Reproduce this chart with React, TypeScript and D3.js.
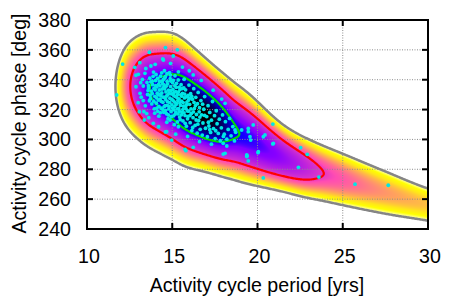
import React, { useMemo } from "react";
import * as d3 from "d3";

// ---------------- data ----------------
const X_TICKS = [10, 15, 20, 25, 30];
const Y_TICKS = [240, 260, 280, 300, 320, 340, 360, 380];

// density model knots (period in yrs)
const KNOT_PERIOD = [10.5, 11.0, 11.64, 12.4, 12.9, 13.4, 13.7, 14.2, 15.0, 15.75, 16.8, 17.7, 18.8, 19.7, 20.7, 21.7, 22.7, 23.85, 25.0, 27.2, 30.0, 32.0];
// ridge (most probable phase at given period)
const RIDGE_PHASE = [335, 335, 335.5, 336, 335, 334, 333, 331.5, 329.5, 324, 317.4, 311.4, 304.5, 299.2, 292.2, 286.2, 281.5, 277.3, 273.2, 265.4, 256.3, 251];
// log of marginal peak density along period
const LOG_PEAK = [-12, -7.6, -4.5, -2.2, -1.34, -0.62, -0.45, -0.27, 0.05, 0.33, 0.35, 0.13, -0.5, -0.6, -0.78, -1.07, -1.45, -2.0, -2.3, -2.8, -3.2, -3.5];
// 2*sigma^2 of phase spread
const SPREAD = [360, 360, 364, 370, 362, 360, 372, 391, 405, 377, 306, 272, 265, 225, 170, 137, 132, 137, 135, 125, 88, 80];

const CONTOUR_LEVELS = [4.5, 2, 0.5];
const CONTOUR_COLORS = ["#858585", "#ff0000", "#00dd00"];
const COLOR_E = [-0.3, 0.0, 0.5, 0.8, 1.2, 2, 2.5, 3, 3.5, 4.5];
const COLOR_T = [0, 0.1, 0.25, 0.41, 0.46, 0.53, 0.63, 0.75, 0.87, 0.99];

const POINTS: [number, number][] = [
  [11.74, 329.8], [12.09, 350.5], [13.66, 358.4], [14.6, 361.5], [15.3, 360], [15.06, 355.9], [14.44, 353.9],
  [13.1, 351.4], [12.8, 348.3], [12.87, 343], [13.01, 343.6], [13.4, 344.3], [12.87, 335.3], [13.11, 330.9],
  [13.0, 324.6], [13.3, 326], [13.07, 318.6], [13.34, 318.6], [13.36, 313], [13.89, 310.8], [14.87, 313],
  [15.36, 308.5], [14.67, 305.2], [14.48, 353.2], [14.97, 299.6], [15.8, 292.5],
  [18.1, 290.7], [19.37, 289.6], [20.34, 274.2], [19.56, 301.8], [20.44, 303], [19.46, 307.4], [20.93, 297.4],
  [19.46, 305.2], [19.6, 299.6], [20.34, 301.8], [17.99, 297.4], [18.2, 295.6], [17.99, 290.2], [19.37, 288.5],
  [16.23, 294.7], [15.75, 293.4], [20.05, 291.8], [19.75, 309.7], [18.1, 324.2], [18.68, 306.3], [19.07, 306.3],
  [16.23, 343.2], [20.9, 310.3], [20.9, 297], [22.53, 294.5], [22.92, 290], [22.4, 281.3], [23.6, 274.8],
  [25.72, 270], [27.67, 269.3], [19.4, 289], [20.03, 291.1], [19.46, 285.6],
  [13.52, 338.2], [13.61, 334.5], [13.55, 330.1], [13.72, 327.3], [13.68, 341.0], [13.8, 323.8], [13.85, 336.7],
  [13.9, 345.1], [13.95, 320.5], [13.78, 332.4], [13.98, 328.9], [14.02, 339.4],
  [14.05, 343.5], [14.1, 335.2], [14.12, 331.0], [14.18, 326.4], [14.22, 322.1], [14.25, 338.8], [14.3, 317.9],
  [14.33, 329.2], [14.38, 344.6], [14.4, 333.7], [14.45, 324.9], [14.48, 340.2], [14.15, 318.8], [14.28, 335.9],
  [14.42, 320.3], [14.08, 327.9],
  [14.52, 336.5], [14.55, 328.1], [14.58, 322.6], [14.6, 342.1], [14.63, 331.8], [14.66, 317.2], [14.7, 338.9],
  [14.72, 325.3], [14.75, 313.9], [14.78, 333.0], [14.8, 320.4], [14.84, 344.8], [14.86, 327.6], [14.9, 335.4],
  [14.93, 318.7], [14.96, 330.5], [14.98, 323.2], [14.54, 346.0], [14.68, 311.5], [14.88, 340.7],
  [15.02, 337.9], [15.05, 326.1], [15.08, 315.8], [15.1, 331.4], [15.13, 321.9], [15.16, 342.6], [15.18, 328.8],
  [15.21, 318.3], [15.24, 334.9], [15.27, 324.0], [15.3, 311.7], [15.32, 330.2], [15.35, 339.8], [15.38, 320.6],
  [15.4, 327.1], [15.43, 315.0], [15.46, 333.6], [15.48, 322.8], [15.12, 309.9], [15.36, 345.3],
  [15.52, 336.7], [15.55, 325.6], [15.58, 318.1], [15.6, 330.9], [15.63, 312.4], [15.66, 322.3], [15.7, 340.3],
  [15.72, 327.8], [15.75, 316.0], [15.78, 333.2], [15.8, 320.7], [15.83, 308.9], [15.86, 325.0], [15.9, 313.8],
  [15.93, 329.5], [15.96, 318.9], [15.98, 336.4],
  [16.02, 323.5], [16.05, 311.2], [16.08, 330.6], [16.12, 317.4], [16.15, 305.9], [16.18, 326.9], [16.22, 314.6],
  [16.26, 334.0], [16.3, 320.8], [16.34, 309.4], [16.38, 328.2], [16.42, 316.7], [16.46, 304.2], [16.48, 323.9],
  [16.52, 331.5], [16.55, 312.6], [16.6, 321.3], [16.64, 306.8], [16.68, 326.0], [16.72, 316.5], [16.76, 302.9],
  [16.8, 311.0], [16.85, 320.2], [16.9, 328.7], [16.95, 307.5],
  [17.02, 315.3], [17.06, 301.8], [17.1, 322.6], [17.15, 309.0], [17.2, 318.1], [17.25, 304.7], [17.3, 312.9],
  [17.36, 325.4], [17.42, 307.3], [17.48, 315.9],
  [17.52, 300.6], [17.58, 319.2], [17.63, 310.5], [17.7, 304.0], [17.76, 313.6], [17.82, 299.1], [17.88, 307.8],
  [17.95, 316.4],
  [18.05, 303.5], [18.12, 311.9], [18.2, 300.2], [18.28, 306.7], [18.36, 314.1], [18.45, 302.4], [18.55, 308.6],
  [18.65, 299.0], [18.72, 304.8],
  [13.25, 340.2], [13.3, 335.8], [13.18, 328.3], [13.42, 322.5], [13.5, 317.3], [13.62, 314.6], [13.15, 338.0],
  [13.45, 347.5], [13.75, 349.2], [14.0, 350.3], [14.9, 351.0], [15.6, 348.5], [16.0, 346.0], [16.7, 339.5],
  [17.4, 333.0], [17.9, 327.0], [14.2, 308.5], [14.6, 305.0], [15.2, 303.5], [15.9, 302.0], [16.6, 298.5], [17.3, 296.8],
  [13.6, 336.0], [13.7, 329.5], [13.82, 339.0], [13.92, 325.6], [14.0, 333.2], [14.1, 321.0], [14.2, 336.9],
  [14.26, 330.4], [14.35, 325.5], [14.43, 337.4], [14.5, 318.2], [14.56, 333.9], [14.62, 326.6], [14.69, 344.0],
  [14.74, 329.9], [14.82, 322.0], [14.91, 339.1], [14.95, 315.4], [15.04, 333.5], [15.1, 319.8], [15.15, 336.0],
  [15.22, 323.3], [15.28, 328.0], [15.34, 317.1], [15.41, 335.1], [15.47, 313.2], [15.56, 329.0], [15.62, 320.0],
  [15.68, 334.5], [15.76, 310.8], [15.85, 323.4], [15.92, 315.5], [16.0, 327.5], [16.1, 320.4], [16.2, 308.0],
  [16.28, 324.8], [16.4, 313.0], [16.58, 318.5], [16.78, 323.6], [17.12, 311.5],
  [13.58, 332.8], [13.66, 325.9], [13.74, 338.6], [13.83, 330.7], [13.88, 342.3], [13.93, 334.1], [13.97, 317.6],
  [14.03, 336.0], [14.07, 324.3], [14.14, 340.9], [14.17, 329.8], [14.21, 315.6], [14.24, 333.1], [14.29, 327.0],
  [14.31, 342.4], [14.36, 320.9], [14.39, 331.1], [14.41, 339.0], [14.46, 328.4], [14.5, 334.9], [14.53, 322.0],
  [14.57, 341.3], [14.61, 319.5], [14.64, 335.7], [14.67, 329.1], [14.71, 322.8], [14.73, 337.2], [14.77, 316.4],
  [14.81, 330.9], [14.85, 324.6], [14.89, 343.1], [14.92, 332.6], [14.97, 326.8], [15.01, 321.0], [15.06, 339.5],
  [15.09, 329.4], [15.14, 325.0], [15.17, 317.0], [15.2, 332.0], [15.25, 337.6], [15.29, 320.4], [15.33, 326.0],
  [15.37, 331.9], [15.42, 318.8], [15.45, 324.5], [15.5, 329.9], [15.54, 316.5], [15.59, 334.1], [15.64, 324.7],
  [15.69, 317.8], [15.73, 330.4], [15.79, 322.5], [15.84, 328.6], [15.88, 319.1], [15.95, 326.3], [16.04, 316.0],
  [16.14, 328.9], [16.24, 318.4], [16.36, 322.6], [16.5, 310.2], [16.62, 315.0], [16.9, 316.1], [17.2, 306.5],
  [17.55, 305.8], [18.0, 302.0],
];

// ---------------- helpers ----------------
function monotone(xs: number[], ys: number[]) {
  const n = xs.length;
  const d: number[] = [];
  const h: number[] = [];
  for (let i = 0; i < n - 1; i++) {
    h[i] = xs[i + 1] - xs[i];
    d[i] = (ys[i + 1] - ys[i]) / h[i];
  }
  const m: number[] = new Array(n).fill(0);
  m[0] = d[0];
  m[n - 1] = d[n - 2];
  for (let i = 1; i < n - 1; i++) {
    if (d[i - 1] * d[i] <= 0) m[i] = 0;
    else {
      const w1 = 2 * h[i] + h[i - 1];
      const w2 = h[i] + 2 * h[i - 1];
      m[i] = (w1 + w2) / (w1 / d[i - 1] + w2 / d[i]);
    }
  }
  return (x: number) => {
    if (x <= xs[0]) return ys[0] + m[0] * (x - xs[0]);
    if (x >= xs[n - 1]) return ys[n - 1] + m[n - 1] * (x - xs[n - 1]);
    let i = d3.bisectRight(xs, x) - 1;
    if (i > n - 2) i = n - 2;
    const t = (x - xs[i]) / h[i];
    const t2 = t * t, t3 = t2 * t;
    return (2 * t3 - 3 * t2 + 1) * ys[i] + (t3 - 2 * t2 + t) * h[i] * m[i] +
      (-2 * t3 + 3 * t2) * ys[i + 1] + (t3 - t2) * h[i] * m[i + 1];
  };
}

// smooth a knot profile with a gaussian kernel (in period units)
function smoothProfile(xs: number[], ys: number[], sigma: number) {
  const f = monotone(xs, ys);
  const x0 = 9.0, step = 0.02, n = Math.round((34 - x0) / step) + 1;
  const raw = new Float64Array(n);
  for (let k = 0; k < n; k++) raw[k] = f(x0 + k * step);
  const r = Math.ceil((3 * sigma) / step);
  const w: number[] = [];
  let ws = 0;
  for (let k = -r; k <= r; k++) { const v = Math.exp(-0.5 * Math.pow((k * step) / sigma, 2)); w.push(v); ws += v; }
  const sm = new Float64Array(n);
  for (let k = 0; k < n; k++) {
    let s = 0;
    for (let q = -r; q <= r; q++) {
      const idx = Math.min(n - 1, Math.max(0, k + q));
      s += raw[idx] * w[q + r];
    }
    sm[k] = s / ws;
  }
  return (x: number) => {
    const p = (x - x0) / step;
    const i = Math.max(0, Math.min(n - 2, Math.floor(p)));
    const t = p - i;
    return sm[i] * (1 - t) + sm[i + 1] * t;
  };
}

const clamp01 = (v: number) => (v < 0 ? 0 : v > 1 ? 1 : v);
function palette(t: number): [number, number, number] {
  const r = clamp01(t / 0.32 - 0.78125);
  const g = clamp01(2 * t - 0.84);
  let b: number;
  if (t < 0.25) b = 4 * t;
  else if (t < 0.42) b = 1;
  else if (t < 0.92) b = -2 * t + 1.84;
  else b = t / 0.08 - 11.5;
  b = clamp01(b);
  return [Math.round(r * 255), Math.round(g * 255), Math.round(b * 255)];
}

const W = 458, H = 301;
const ML = 87, MR = 428, MT = 20, MB = 229;
const FONT = "'Liberation Sans', Arial, Helvetica, sans-serif";

export default function App() {
  const x = d3.scaleLinear().domain([10, 30]).range([ML, MR]);
  const y = d3.scaleLinear().domain([240, 380]).range([MB, MT]);

  const model = useMemo(() => ({
    ridge: smoothProfile(KNOT_PERIOD, RIDGE_PHASE, 0.45),
    peak: smoothProfile(KNOT_PERIOD, LOG_PEAK, 0.3),
    spread: smoothProfile(KNOT_PERIOD, SPREAD, 0.5),
  }), []);
  const tScale = d3.scaleLinear().domain(COLOR_E).range(COLOR_T).clamp(true);

  const heat = useMemo(() => {
    const w = MR - ML, h = MB - MT;
    const c = document.createElement("canvas");
    c.width = w; c.height = h;
    const ctx = c.getContext("2d")!;
    const img = ctx.createImageData(w, h);
    for (let i = 0; i < w; i++) {
      const xv = x.invert(ML + i + 0.5);
      const m = model.ridge(xv), a = model.spread(xv), G = model.peak(xv);
      for (let j = 0; j < h; j++) {
        const yv = y.invert(MT + j + 0.5);
        const E = (yv - m) * (yv - m) / a - G;
        if (E > CONTOUR_LEVELS[0]) continue;
        const [r, g, b] = palette(tScale(E));
        const k = (j * w + i) * 4;
        img.data[k] = r; img.data[k + 1] = g; img.data[k + 2] = b; img.data[k + 3] = 255;
      }
    }
    ctx.putImageData(img, 0, 0);
    return c.toDataURL();
  }, []);

  const contourPaths = useMemo(() => {
    const step = 1;
    const gx0 = ML - 10, gy0 = MT - 10;
    const nx = Math.ceil((MR - ML + 30) / step), ny = Math.ceil((MB - MT + 20) / step);
    const values = new Float64Array(nx * ny);
    for (let i = 0; i < nx; i++) {
      const xv = x.invert(gx0 + (i + 0.5) * step);
      const m = model.ridge(xv), a = model.spread(xv), G = model.peak(xv);
      for (let j = 0; j < ny; j++) {
        const yv = y.invert(gy0 + (j + 0.5) * step);
        values[j * nx + i] = -((yv - m) * (yv - m) / a - G);
      }
    }
    const cs = d3.contours().size([nx, ny]).thresholds(CONTOUR_LEVELS.map((l) => -l))(Array.from(values));
    const proj = d3.geoTransform({
      point(px: number, py: number) {
        (this as any).stream.point(gx0 + px * step, gy0 + py * step);
      },
    });
    const path = d3.geoPath(proj);
    return cs.map((c) => path(c as any) || "");
  }, []);

  return (
    <svg width={W} height={H} style={{ position: "absolute", left: 0, top: 0, background: "#fff" }}
      fontFamily={FONT}>
      <defs>
        <clipPath id="plotClip">
          <rect x={ML} y={MT} width={MR - ML} height={MB - MT} />
        </clipPath>
      </defs>
      <image href={heat} x={ML} y={MT} width={MR - ML} height={MB - MT} />
      <g stroke="#8c8c8c" strokeWidth={1} strokeDasharray="1,1.5">
        {X_TICKS.slice(1, -1).map((t) => (
          <line key={"gx" + t} x1={x(t)} x2={x(t)} y1={MT} y2={MB} />
        ))}
        {Y_TICKS.slice(1, -1).map((t) => (
          <line key={"gy" + t} x1={ML} x2={MR} y1={y(t)} y2={y(t)} />
        ))}
      </g>
      <g clipPath="url(#plotClip)" fill="none">
        {contourPaths.map((d, i) => (
          <path key={i} d={d} stroke={CONTOUR_COLORS[i]} strokeWidth={i === 0 ? 2.5 : 2.2} strokeLinejoin="round" />
        ))}
      </g>
      <g fill="#00e6e6" clipPath="url(#plotClip)">
        {POINTS.map((p, i) => (
          <circle key={i} cx={x(p[0])} cy={y(p[1])} r={1.9} />
        ))}
      </g>
      <rect x={ML} y={MT} width={MR - ML} height={MB - MT} fill="none" stroke="#000" strokeWidth={2} />
      <g stroke="#000" strokeWidth={2}>
        {X_TICKS.map((t) => (
          <g key={"tx" + t}>
            <line x1={x(t)} x2={x(t)} y1={MB} y2={MB - 6} />
            <line x1={x(t)} x2={x(t)} y1={MT} y2={MT + 6} />
          </g>
        ))}
        {Y_TICKS.map((t) => (
          <g key={"ty" + t}>
            <line x1={ML} x2={ML + 6} y1={y(t)} y2={y(t)} />
            <line x1={MR} x2={MR - 6} y1={y(t)} y2={y(t)} />
          </g>
        ))}
      </g>
      <g fontSize={19.6} fill="#000">
        {X_TICKS.map((t) => (
          <text key={"lx" + t} x={x(t) + 2} y={262.5} textAnchor="middle">{t}</text>
        ))}
        {Y_TICKS.map((t) => (
          <text key={"ly" + t} x={71} y={y(t) + 7} textAnchor="end">{t}</text>
        ))}
        <text x={257} y={292} textAnchor="middle">Activity cycle period [yrs]</text>
        <text transform="translate(26,123.5) rotate(-90)" textAnchor="middle">Activity cycle phase [deg]</text>
      </g>
    </svg>
  );
}
